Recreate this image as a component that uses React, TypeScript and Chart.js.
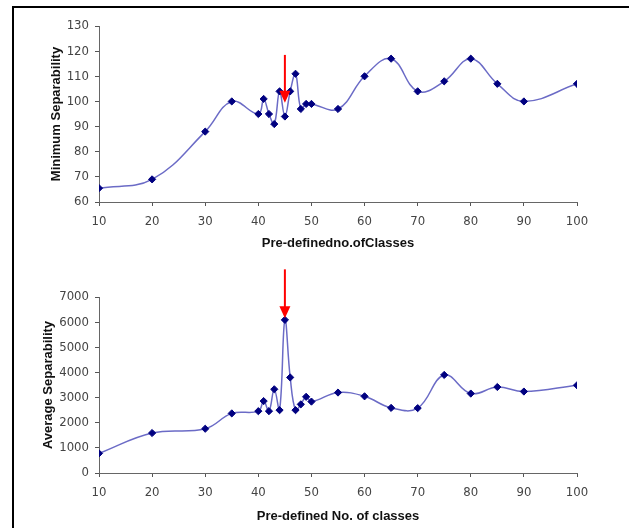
import { useEffect, useRef } from "react";
import { Chart, registerables } from "chart.js";

Chart.register(...registerables);

// Number of predefined classes tried in the clustering runs
const classCounts = [10, 20, 30, 35, 40, 41, 42, 43, 44, 45, 46, 47, 48, 49, 50, 55, 60, 65, 70, 75, 80, 85, 90, 100];

// Minimum separability for each class count
const minSeparability = [65.5, 69, 88, 100, 95, 101, 95, 91, 104, 94, 104, 111, 97, 99, 99, 97, 110, 117, 104, 108, 117, 107, 100, 107];

// Average separability for each class count
const avgSeparability = [780, 1590, 1760, 2370, 2460, 2860, 2460, 3330, 2500, 6090, 3800, 2500, 2730, 3030, 2840, 3200, 3050, 2590, 2580, 3900, 3160, 3420, 3240, 3490];

// Tick labels
const classTicks = [10, 20, 30, 40, 50, 60, 70, 80, 90, 100];
const minTicks = [60, 70, 80, 90, 100, 110, 120, 130];
const avgTicks = [0, 1000, 2000, 3000, 4000, 5000, 6000, 7000];

// Highlighted class count and the value span of its arrow (tail, tip)
const bestCount = 45;
const minArrow = [118.5, 99.5];
const avgArrow = [8100, 6150];

const TICK_FONT = "'Liberation Sans Narrow', 'DejaVu Sans Condensed', 'Liberation Sans', sans-serif";
const TITLE_FONT = "'Liberation Sans', Arial, sans-serif";

type PanelProps = {
  values: number[];
  yTicks: number[];
  arrow: number[];
  xTitle: string;
  yTitle: string;
  height: number;
  plotTop: number;
  plotBottom: number;
  xTitleY: number;
  yTitleX: number;
};

function Panel(p: PanelProps) {
  const ref = useRef<HTMLCanvasElement | null>(null);

  useEffect(() => {
    if (!ref.current) return;

    const decorations = {
      id: "decorations",
      afterDatasetsDraw(chart: any) {
        const { ctx, chartArea, scales } = chart;
        // red arrow pointing at the selected class count
        const ax = scales.x.getPixelForValue(bestCount);
        const y0 = scales.y.getPixelForValue(p.arrow[0]);
        const y1 = scales.y.getPixelForValue(p.arrow[1]);
        const headH = 12;
        const headW = 5.5;
        ctx.save();
        ctx.strokeStyle = "#ff0000";
        ctx.fillStyle = "#ff0000";
        ctx.lineWidth = 2;
        ctx.beginPath();
        ctx.moveTo(ax, y0);
        ctx.lineTo(ax, y1 - headH + 1);
        ctx.stroke();
        ctx.beginPath();
        ctx.moveTo(ax - headW, y1 - headH);
        ctx.lineTo(ax + headW, y1 - headH);
        ctx.lineTo(ax, y1);
        ctx.closePath();
        ctx.fill();
        ctx.restore();

        // axis titles
        ctx.save();
        ctx.fillStyle = "#111";
        ctx.font = `bold 13px ${TITLE_FONT}`;
        ctx.textAlign = "center";
        ctx.textBaseline = "middle";
        ctx.fillText(p.xTitle, (chartArea.left + chartArea.right) / 2, p.xTitleY);
        ctx.translate(p.yTitleX, (chartArea.top + chartArea.bottom) / 2);
        ctx.rotate(-Math.PI / 2);
        ctx.fillText(p.yTitle, 0, 0);
        ctx.restore();
      },
    };

    const chart = new Chart(ref.current, {
      type: "line",
      data: {
        datasets: [
          {
            data: classCounts.map((c, i) => ({ x: c, y: p.values[i] })),
            borderColor: "#6b6bc6",
            borderWidth: 1.5,
            tension: 0.4,
            pointStyle: "rectRot",
            pointRadius: 3.6,
            pointBackgroundColor: "#000080",
            pointBorderColor: "#000080",
            pointBorderWidth: 1,
            fill: false,
          },
        ],
      },
      options: {
        animation: false,
        responsive: false,
        maintainAspectRatio: false,
        events: [],
        layout: { padding: { left: 0, right: 52, top: p.plotTop, bottom: 0 } },
        plugins: { legend: { display: false }, tooltip: { enabled: false }, title: { display: false } },
        scales: {
          x: {
            type: "linear",
            min: 10,
            max: 100,
            afterBuildTicks: (s: any) => {
              s.ticks = classTicks.map((v) => ({ value: v }));
            },
            afterFit: (s: any) => {
              s.height = p.height - p.plotBottom;
            },
            grid: { drawOnChartArea: false, drawTicks: true, tickLength: 4, color: "#555" },
            border: { color: "#666", width: 1 },
            ticks: {
              padding: 8,
              maxRotation: 0,
              color: "#444",
              font: { family: TICK_FONT, size: 13 },
              callback: (v: any) => String(v),
            },
          },
          y: {
            type: "linear",
            min: p.yTicks[0],
            max: p.yTicks[p.yTicks.length - 1],
            afterBuildTicks: (s: any) => {
              s.ticks = p.yTicks.map((v) => ({ value: v }));
            },
            afterFit: (s: any) => {
              s.width = 99;
            },
            grid: { drawOnChartArea: false, drawTicks: true, tickLength: 4, color: "#555" },
            border: { color: "#666", width: 1 },
            ticks: {
              padding: 6,
              color: "#444",
              font: { family: TICK_FONT, size: 13 },
              callback: (v: any) => String(v),
            },
          },
        },
      },
      plugins: [decorations],
    });

    return () => chart.destroy();
  }, []);

  return <canvas ref={ref} width={629} height={p.height} style={{ display: "block", width: 629, height: p.height }} />;
}

export default function App() {
  return (
    <div style={{ position: "absolute", left: 0, top: 0, width: 629, height: 528, background: "#fff", overflow: "hidden" }}>
      <div style={{ position: "absolute", left: 0, top: 0 }}>
        <Panel
          values={minSeparability}
          yTicks={minTicks}
          arrow={minArrow}
          xTitle="Pre-definedno.ofClasses"
          yTitle="Minimum Separability"
          height={260}
          plotTop={26}
          plotBottom={202}
          xTitleY={243}
          yTitleX={56}
        />
      </div>
      <div style={{ position: "absolute", left: 0, top: 260 }}>
        <Panel
          values={avgSeparability}
          yTicks={avgTicks}
          arrow={avgArrow}
          xTitle="Pre-defined No. of classes"
          yTitle="Average Separability"
          height={268}
          plotTop={37}
          plotBottom={213}
          xTitleY={256}
          yTitleX={48}
        />
      </div>
      <div
        style={{
          position: "absolute",
          left: 12,
          top: 6,
          width: 640,
          height: 540,
          borderLeft: "2px solid #000",
          borderTop: "2px solid #000",
          pointerEvents: "none",
        }}
      />
    </div>
  );
}
